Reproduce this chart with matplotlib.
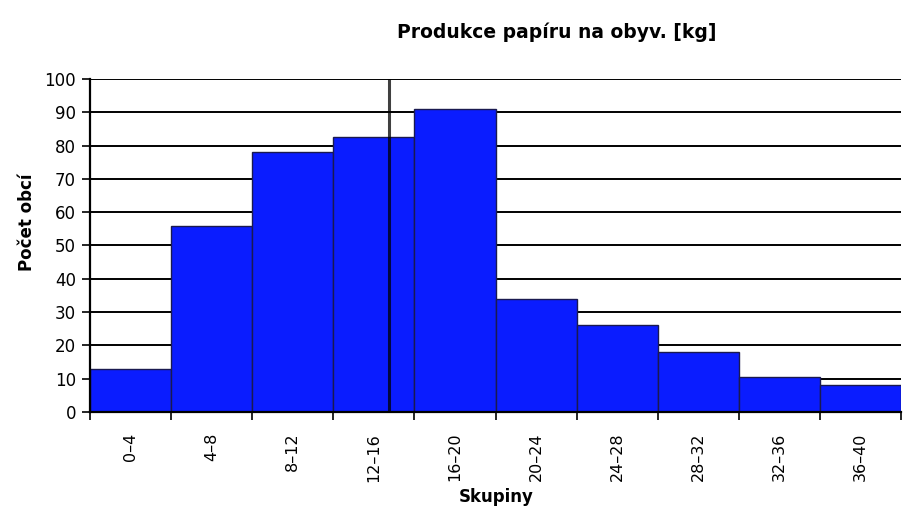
import matplotlib
matplotlib.use("Agg")
import matplotlib.pyplot as plt
import numpy as np

plt.rcParams["font.family"] = ["DejaVu Sans"]

categories = ["0–4", "4–8", "8–12", "12–16", "16–20", "20–24", "24–28", "28–32", "32–36", "36–40"]
counts = [13, 56, 78, 82.5, 91, 34, 26, 18, 10.5, 8]
mean_value = 14.75  # kg, vertical marker
bin_width_kg = 4

fig = plt.figure(figsize=(9.06, 5.18), dpi=100)
ax = fig.add_axes([90/906, 1-412/518, 811/906, 333/518])

x = np.arange(len(categories))
ax.bar(x, counts, width=1.0, color="#0a1cff", edgecolor="#1a1a50", linewidth=1.0, zorder=3)

ax.set_xlim(-0.5, len(categories) - 0.5)
ax.set_ylim(0, 100)
ax.set_yticks(np.arange(0, 101, 10))
ax.yaxis.grid(True, color="black", linewidth=1.4, zorder=1)
ax.set_axisbelow(True)

# mean marker line (in category coordinates)
mx = mean_value / bin_width_kg - 0.5
ax.axvline(mx, color="black", alpha=0.75, linewidth=2.2, zorder=4)

ax.set_xticks(np.arange(-0.5, len(categories)), minor=False)
ax.set_xticklabels([])
ax.set_xticks(x, minor=True)
ax.set_xticklabels(categories, minor=True, rotation=90, fontsize=11.5)
ax.tick_params(axis="x", which="major", length=6, width=1.2, direction="out", color="black")
ax.tick_params(axis="x", which="minor", length=0, pad=15)
ax.tick_params(axis="y", length=6, width=1.2, direction="out", labelsize=12, pad=4)

for s in ["top", "right"]:
    ax.spines[s].set_visible(False)
for s in ["left", "bottom"]:
    ax.spines[s].set_linewidth(1.6)
    ax.spines[s].set_color("black")
    ax.spines[s].set_zorder(5)

fig.text(557/906, 1-32/518, "Produkce papíru na obyv. [kg]", ha="center", va="center",
         fontsize=13.5, fontweight="bold")
fig.text(27/906, 1-222/518, "Počet obcí", ha="center", va="center", rotation=90,
         fontsize=12, fontweight="bold")
fig.text(496/906, 1-497/518, "Skupiny", ha="center", va="center",
         fontsize=12, fontweight="bold")

fig.savefig("out.png", dpi=100)
